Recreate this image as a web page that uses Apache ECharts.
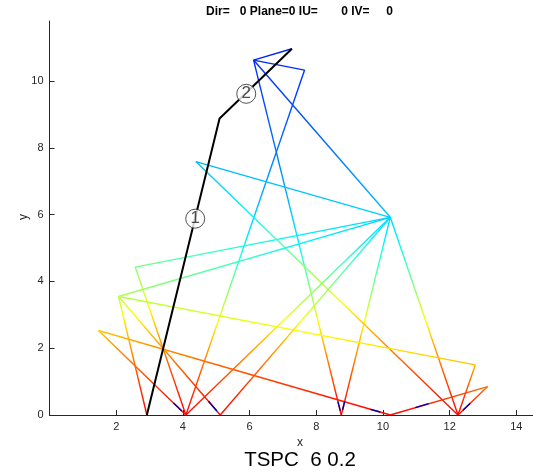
<!DOCTYPE html>
<html>
<head>
<meta charset="utf-8">
<script src="https://cdn.jsdelivr.net/npm/echarts@6/dist/echarts.min.js"></script>
<style>
  html, body { margin: 0; padding: 0; background: #fff; }
  #main { width: 533px; height: 473px; }
</style>
</head>
<body>
<div id="main"></div>
<script>
// tour through the stations, in drawing order
var tourX = [7.27, 6.12, 7.65, 4.09, 2.57, 10.22, 6.12, 8.75, 10.22, 4.39, 12.25, 10.22, 4.09, 1.47, 10.22, 13.14, 12.25, 12.77, 2.07, 10.22, 5.12, 2.07, 2.92];
var tourY = [10.97, 10.63, 10.33, 0, 4.43, 5.92, 10.63, 0, 5.92, 7.59, 0, 5.92, 0, 2.53, 0, 0.85, 0, 1.50, 3.55, 5.92, 0, 3.55, 0];
// colour value carried by each stop (height-like, 0 = red .. 11 = blue)
var tourV = [10.97, 10.63, 10.33, 0, 3.9, 5.9, 10.63, 0, 5.9, 6.4, 0, 5.9, 0, 2.4, 0, 1.6, 0, 2.3, 3.4, 5.9, 0, 3.4, 0];

// short dark blue bits near the floor
var glitchX0 = [3.72, 4.77, 8.65, 8.79, 9.62, 10.97, 12.40];
var glitchY0 = [0.36, 0.41, 0.40, 0.15, 0.17, 0.22, 0.14];
var glitchX1 = [3.97, 5.02, 8.72, 8.85, 9.92, 11.37, 12.62];
var glitchY1 = [0.12, 0.12, 0.13, 0.40, 0.09, 0.34, 0.35];

// black path with its numbered points
var pathX = [2.92, 5.10, 7.27];
var pathY = [0, 8.88, 10.97];
var markX = [4.37, 5.90];
var markY = [5.88, 9.62];
var markText = ['1', '2'];

var xTicks = [2, 4, 6, 8, 10, 12, 14];
var yTicks = [0, 2, 4, 6, 8, 10];

var titleText = 'Dir=   0 Plane=0 IU=       0 IV=     0';
var footText = 'TSPC  6 0.2';

// colour map (value -> colour), jet-like
var shadeV = [0, 0.6, 1.2, 1.8, 2.3, 2.8, 3.4, 4.0, 4.6, 5.2, 5.9, 6.5, 7.6, 9.0, 10.3, 11.0];
var shadeC = ['#ff0000', '#ff2000', '#ff5000', '#ff8a00', '#ffc000', '#ffff00', '#b4ff4a', '#70ff90',
              '#30ffd0', '#00f0ff', '#00d0ff', '#00b0ff', '#0080ff', '#0050ff', '#0030ff', '#0020f0'];

var chart = echarts.init(document.getElementById('main'), null, { renderer: 'canvas' });

function hexRgb(h) {
  return [parseInt(h.substr(1, 2), 16), parseInt(h.substr(3, 2), 16), parseInt(h.substr(5, 2), 16)];
}

function shade(v) {
  if (v <= shadeV[0]) return shadeC[0];
  var n = shadeV.length - 1;
  if (v >= shadeV[n]) return shadeC[n];
  for (var k = 0; k < n; k++) {
    if (v <= shadeV[k + 1]) {
      var f = (v - shadeV[k]) / (shadeV[k + 1] - shadeV[k]);
      var a = hexRgb(shadeC[k]), b = hexRgb(shadeC[k + 1]);
      return 'rgb(' + Math.round(a[0] + (b[0] - a[0]) * f) + ',' +
        Math.round(a[1] + (b[1] - a[1]) * f) + ',' +
        Math.round(a[2] + (b[2] - a[2]) * f) + ')';
    }
  }
}

function shadeStops(v0, v1) {
  var marks = [0, 1];
  shadeV.forEach(function (k) {
    var f = (k - v0) / (v1 - v0);
    if (f > 0 && f < 1) marks.push(f);
  });
  marks.sort(function (a, b) { return a - b; });
  return marks.map(function (f) {
    return { offset: f, color: shade(v0 + (v1 - v0) * f) };
  });
}

var series = [];

for (var i = 0; i + 1 < tourX.length; i++) {
  var x0 = tourX[i], y0 = tourY[i], x1 = tourX[i + 1], y1 = tourY[i + 1];
  series.push({
    type: 'line',
    data: [[x0, y0], [x1, y1]],
    symbol: 'none',
    silent: true,
    z: 2,
    lineStyle: {
      width: 1.4,
      color: new echarts.graphic.LinearGradient(
        x0 < x1 ? 0 : 1, y0 > y1 ? 0 : 1,
        x0 < x1 ? 1 : 0, y0 > y1 ? 1 : 0,
        shadeStops(tourV[i], tourV[i + 1]))
    }
  });
}

for (var j = 0; j < glitchX0.length; j++) {
  series.push({
    type: 'line',
    data: [[glitchX0[j], glitchY0[j]], [glitchX1[j], glitchY1[j]]],
    symbol: 'none',
    silent: true,
    z: 3,
    lineStyle: { width: 1.4, color: '#0000a8' }
  });
}

series.push({
  type: 'line',
  data: pathX.map(function (x, k) { return [x, pathY[k]]; }),
  symbol: 'none',
  silent: true,
  z: 4,
  lineStyle: { width: 2, color: '#000' }
});

series.push({
  type: 'scatter',
  data: markX.map(function (x, k) { return [x, markY[k]]; }),
  symbol: 'circle',
  symbolSize: 19,
  silent: true,
  z: 5,
  itemStyle: { color: '#fff', borderColor: '#262626', borderWidth: 1 },
  label: {
    show: true,
    position: 'inside',
    formatter: function (p) { return markText[p.dataIndex]; },
    color: '#262626',
    fontSize: 17,
    fontFamily: 'Liberation Sans'
  }
});

var axisCommon = {
  type: 'value',
  splitLine: { show: false },
  axisLine: { show: true, onZero: false, lineStyle: { color: '#262626', width: 1 } },
  axisLabel: { color: '#262626', fontSize: 11, fontFamily: 'Liberation Sans', margin: 6 }
};

var option = {
  animation: false,
  backgroundColor: '#fff',
  grid: { left: 49.5, top: 21, right: 0, height: 394, containLabel: false },
  xAxis: echarts.util.merge({
    min: 0, max: 14.5, interval: 2,
    axisTick: { inside: true, length: 5, customValues: xTicks, lineStyle: { color: '#262626' } },
    axisLabel: { customValues: xTicks }
  }, axisCommon),
  yAxis: echarts.util.merge({
    min: 0, max: 11.8, interval: 2,
    axisTick: { inside: true, length: 5, customValues: yTicks, lineStyle: { color: '#262626' } },
    axisLabel: { customValues: yTicks }
  }, axisCommon),
  graphic: [
    { type: 'text', silent: true,
      style: { text: titleText, x: 299.5, y: 12, textAlign: 'center', textVerticalAlign: 'middle',
        font: 'bold 12px "Liberation Sans"', fill: '#000' } },
    { type: 'text', silent: true,
      style: { text: 'x', x: 300, y: 443, textAlign: 'center', textVerticalAlign: 'middle',
        font: '12px "Liberation Sans"', fill: '#262626' } },
    { type: 'text', silent: true, rotation: Math.PI / 2, x: 24, y: 217,
      style: { text: 'y', x: 0, y: 0, textAlign: 'center', textVerticalAlign: 'middle',
        font: '12px "Liberation Sans"', fill: '#262626' } },
    { type: 'text', silent: true,
      style: { text: footText, x: 300, y: 460, textAlign: 'center', textVerticalAlign: 'middle',
        font: '20.5px "Liberation Sans"', fill: '#000' } }
  ],
  series: series
};

chart.setOption(option);
</script>
</body>
</html>
